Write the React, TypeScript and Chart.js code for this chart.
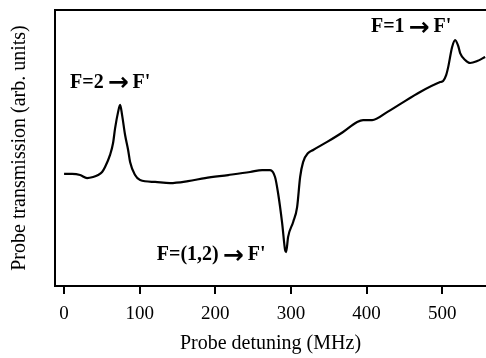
import React, { useEffect, useRef } from "react";
import { Chart, registerables } from "chart.js";

Chart.register(...registerables);

// Probe detuning (MHz)
const detuning = [
  0, 10.6, 21.2, 30.4, 38.4, 45, 50.3, 54.2, 60.8, 64.8, 67.5, 71.4, 74.1, 76.7, 80.7, 84.7, 87.3, 93.9,
  100.5, 120.4, 140.2, 164, 186.5, 217, 246, 262, 272.5, 279, 283, 288.4, 292.3, 293.7, 296.3, 303, 308.2,
  312.2, 316.1, 322.8, 329.4, 347.9, 369, 387.6, 395.5, 407.4, 427.2, 444.4, 470.9, 497.4, 501.3, 505.3,
  508, 513.2, 517.2, 521.2, 523.8, 530.4, 537, 546.3, 556.9,
];

// Probe transmission (arb. units)
const transmission = [
  40.6, 40.6, 40.2, 39.1, 39.5, 40.2, 41.3, 43.1, 47.5, 51.8, 57.2, 63.0, 65.6, 62.0, 54.7, 49.3, 44.9, 40.2,
  38.4, 37.7, 37.3, 38.0, 39.1, 40.2, 41.3, 42.0, 42.0, 39.5, 33.7, 22.8, 13.0, 12.3, 17.8, 23.2, 28.6,
  39.5, 44.9, 48.2, 49.3, 52.2, 55.8, 59.4, 60.1, 60.1, 63.0, 65.9, 70.3, 73.9, 74.3, 76.4,
  79.3, 86.6, 89.1, 87.0, 84.4, 81.9, 80.8, 81.5, 83.0,
];

const xTickValues = [0, 100, 200, 300, 400, 500];
const xMin = -12;
const xMax = 558;
const yMin = 0;
const yMax = 100;

// Annotation: text before the arrow, text after, and anchor (data units)
const annotationLeft = ["F=2", "F=1", "F=(1,2)"];
const annotationRight = ["F'", "F'", "F'"];
const annotationX = [61, 459, 194.5];
const annotationY = [73.6, 93.8, 11.2];

const FONT = "'Liberation Serif', 'Times New Roman', serif";
const ARROW = "\u2192";

const framePlugin = {
  id: "frameAndNotes",
  afterDraw(chart: any) {
    const { ctx, chartArea, scales } = chart;
    ctx.save();
    ctx.strokeStyle = "#000";
    ctx.lineWidth = 2;
    ctx.beginPath();
    ctx.moveTo(chartArea.left - 1, chartArea.top);
    ctx.lineTo(chartArea.right, chartArea.top);
    ctx.stroke();
    ctx.fillStyle = "#000";
    ctx.textBaseline = "middle";
    ctx.textAlign = "left";
    const textFont = `bold 20px ${FONT}`;
    const arrowFont = `bold 25px 'DejaVu Sans', sans-serif`;
    const gap = 4;
    annotationLeft.forEach((left, i) => {
      const right = annotationRight[i];
      ctx.font = textFont;
      const wl = ctx.measureText(left).width;
      const wr = ctx.measureText(right).width;
      ctx.font = arrowFont;
      const wa = ctx.measureText(ARROW).width;
      const total = wl + gap + wa + gap + wr;
      const cx = scales.x.getPixelForValue(annotationX[i]);
      const cy = scales.y.getPixelForValue(annotationY[i]);
      let x = cx - total / 2;
      ctx.font = textFont;
      ctx.fillText(left, x, cy);
      x += wl + gap;
      ctx.font = arrowFont;
      ctx.fillText(ARROW, x, cy + 1);
      x += wa + gap;
      ctx.font = textFont;
      ctx.fillText(right, x, cy);
    });
    ctx.restore();
  },
};

export default function App() {
  const ref = useRef<HTMLCanvasElement>(null);
  useEffect(() => {
    const points = detuning.map((x, i) => ({ x, y: transmission[i] }));
    const chart = new Chart(ref.current!, {
      type: "line",
      data: {
        datasets: [
          {
            data: points,
            borderColor: "#000",
            borderWidth: 2.2,
            pointRadius: 0,
            fill: false,
            cubicInterpolationMode: "monotone",
          },
        ],
      },
      options: {
        animation: false,
        responsive: true,
        maintainAspectRatio: false,
        layout: { padding: { top: 10, left: 0, right: 0, bottom: 0 } },
        plugins: { legend: { display: false }, tooltip: { enabled: false } },
        scales: {
          x: {
            type: "linear",
            min: xMin,
            max: xMax,
            afterBuildTicks: (scale: any) => {
              scale.ticks = xTickValues.map((v) => ({ value: v }));
            },
            afterFit: (scale: any) => {
              scale.height = 72;
            },
            grid: { drawOnChartArea: false, drawTicks: true, tickLength: 8, color: "#000", lineWidth: 2 },
            border: { display: true, color: "#000", width: 2 },
            ticks: { color: "#000", font: { family: FONT, size: 19 }, padding: 9, maxRotation: 0 },
            title: {
              display: true,
              text: "Probe detuning (MHz)",
              color: "#000",
              font: { family: FONT, size: 20 },
              padding: { top: 0, bottom: 2 },
            },
          },
          y: {
            type: "linear",
            min: yMin,
            max: yMax,
            afterFit: (scale: any) => {
              scale.width = 55;
            },
            grid: { drawOnChartArea: false, drawTicks: false },
            border: { display: true, color: "#000", width: 2 },
            ticks: { display: false },
            title: {
              display: true,
              text: "Probe transmission (arb. units)",
              color: "#000",
              font: { family: FONT, size: 20 },
              padding: { top: 8, bottom: 0 },
            },
          },
        },
      },
      plugins: [framePlugin],
    });
    return () => chart.destroy();
  }, []);
  return (
    <div style={{ position: "fixed", left: 0, top: 0, width: 486, height: 358, background: "#fff" }}>
      <canvas ref={ref} />
    </div>
  );
}
